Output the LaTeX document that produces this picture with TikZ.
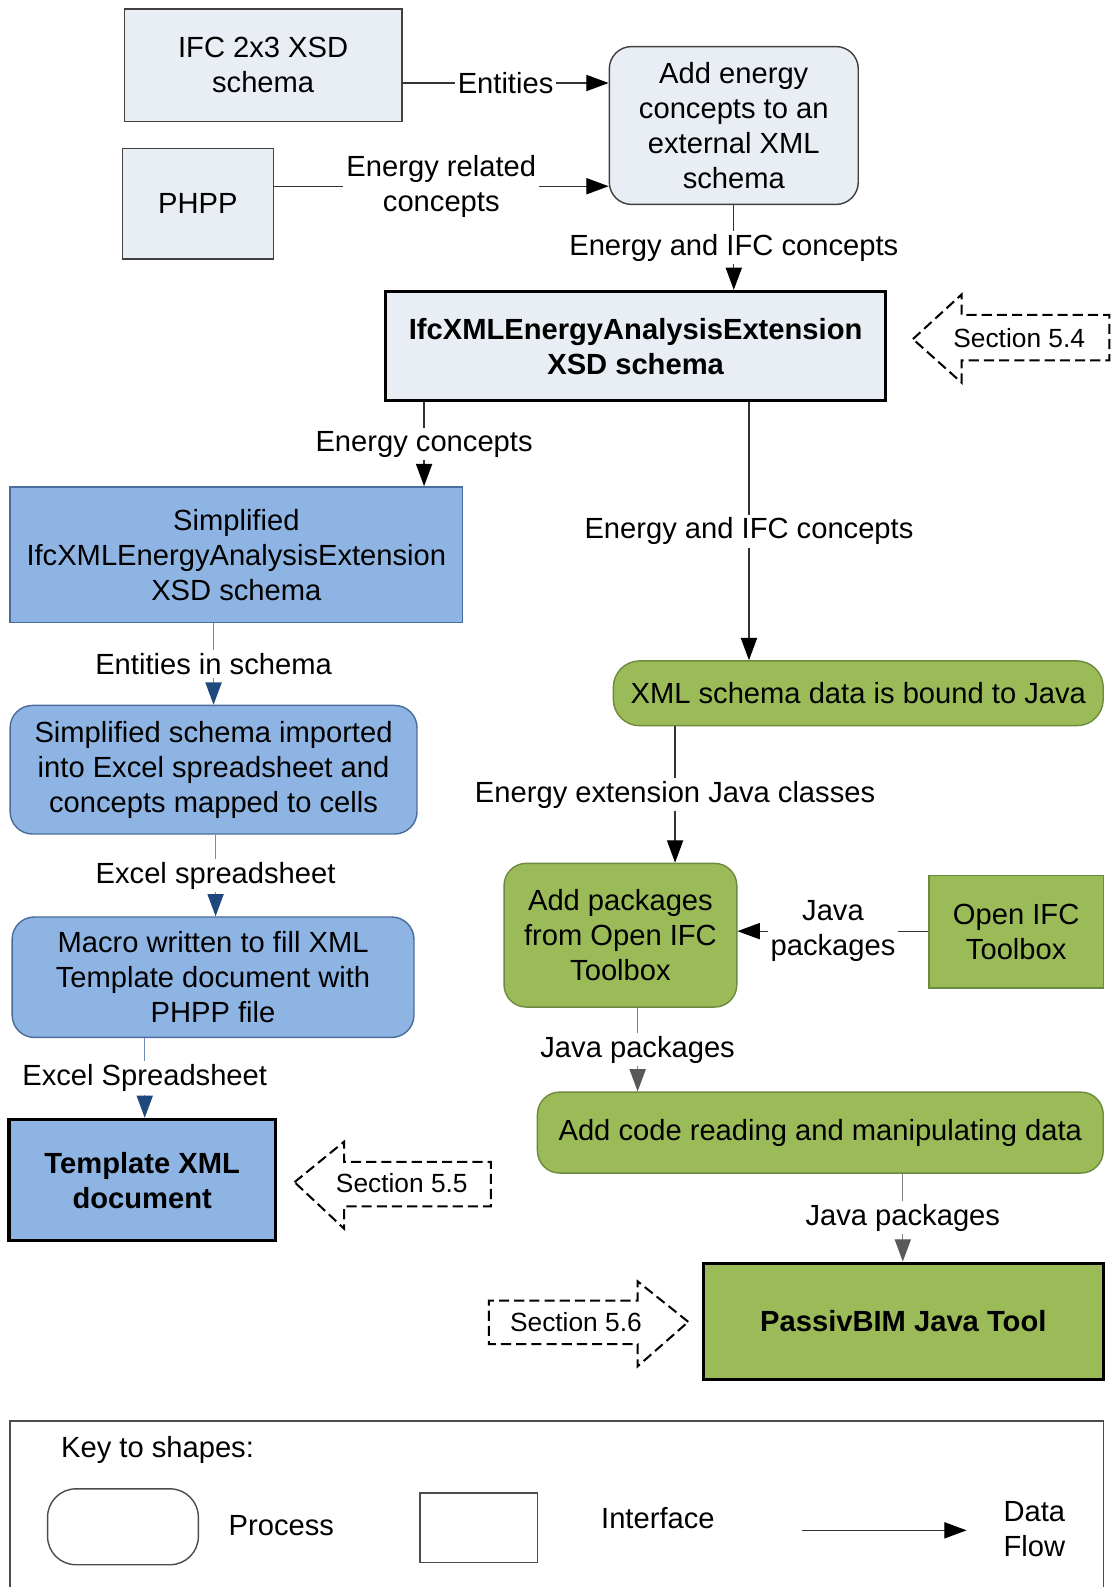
\documentclass[tikz,border=0pt]{standalone}
\usepackage{fontspec}
\setmainfont{Liberation Sans}
\usetikzlibrary{arrows.meta}
\definecolor{lightbox}{HTML}{E9EDF4}
\definecolor{bluebox}{HTML}{8EB4E3}
\definecolor{blueedge}{HTML}{4A6D9C}
\definecolor{blueline}{HTML}{6F8DB5}
\definecolor{bluehead}{HTML}{1F497D}
\definecolor{greenbox}{HTML}{9BBB59}
\definecolor{greenedge}{HTML}{6E8A3E}
\definecolor{grayline}{HTML}{808080}
\definecolor{grayhead}{HTML}{595959}
\begin{document}
\begin{tikzpicture}[x=0.5pt,y=-0.5pt,
  every node/.style={font=\fontsize{14.4}{17.3}\selectfont, align=center, inner sep=0pt},
  lightrect/.style={draw=black!75, fill=lightbox, line width=0.7pt},
  lightround/.style={lightrect, rounded corners=11pt},
  bluerect/.style={draw=blueedge, fill=bluebox, line width=0.7pt},
  blueround/.style={bluerect, rounded corners=11pt},
  greenrect/.style={draw=greenedge, fill=greenbox, line width=0.7pt},
  greenround/.style={greenrect, rounded corners=11pt},
  keynode/.style={draw=black, line width=1.6pt, font=\fontsize{14.4}{17.3}\selectfont\bfseries},
  lbl/.style={fill=white, inner sep=1.5pt},
  flow/.style={draw=black!80, line width=0.6pt, -{Triangle[length=11pt,width=8pt,color=black]}},
  bflow/.style={draw=blueline, line width=0.6pt, -{Triangle[length=11pt,width=8pt,color=bluehead]}},
  gflow/.style={draw=grayline, line width=0.6pt, -{Triangle[length=11pt,width=8pt,color=grayhead]}},
  secarrow/.style={draw=black, line width=1pt, dash pattern=on 5pt off 2.5pt},
  seclbl/.style={font=\fontsize{13}{15.6}\selectfont},
  keyline/.style={draw=black!70, line width=0.7pt}
]
\fill[white] (0,0) rectangle (1104,1568);
\useasboundingbox (0,0) rectangle (1104,1568);

% nodes
\node[lightrect, minimum width=137pt, minimum height=55.5pt] (ifc) at (260,64.5) {IFC 2x3 XSD\\schema};
\node[lightrect, minimum width=74.5pt, minimum height=54.5pt] (phpp) at (195.5,201.5) {PHPP};
\node[lightround, minimum width=123pt, minimum height=78pt] (adde) at (725,124) {Add energy\\concepts to an\\external XML\\schema};
\node[lightrect, keynode, fill=lightbox, minimum width=247pt, minimum height=54pt] (ifcx) at (628,342) {IfcXMLEnergyAnalysisExtension\\XSD schema};
\node[bluerect, minimum width=223.5pt, minimum height=67pt] (simp) at (233.5,548) {Simplified\\IfcXMLEnergyAnalysisExtension\\XSD schema};
\node[greenround, rounded corners=13pt, minimum width=242pt, minimum height=32pt] (xmlb) at (848,685) {XML schema data is bound to Java};
\node[blueround, minimum width=201pt, minimum height=63.5pt] (simpimp) at (211,760.5) {Simplified schema imported\\into Excel spreadsheet and\\concepts mapped to cells};
\node[blueround, minimum width=198.5pt, minimum height=59.5pt] (macro) at (210.5,965.5) {Macro written to fill XML\\Template document with\\PHPP file};
\node[bluerect, keynode, fill=bluebox, minimum width=131.5pt, minimum height=60pt] (tmpl) at (140.5,1166) {Template XML\\document};
\node[greenround, minimum width=115pt, minimum height=71pt] (addp) at (613,924) {Add packages\\from Open IFC\\Toolbox};
\node[greenrect, minimum width=86pt, minimum height=55.5pt] (oifc) at (1004,920.5) {Open IFC\\Toolbox};
\node[greenround, minimum width=279.5pt, minimum height=40pt] (addc) at (810.5,1119) {Add code reading and manipulating data};
\node[greenrect, keynode, fill=greenbox, minimum width=197.5pt, minimum height=57.5pt] (pbim) at (892.5,1305.5) {PassivBIM Java Tool};

% helper coordinates
\coordinate (yA) at (0,82);
\coordinate (yB) at (0,184);
\coordinate (yC) at (0,920);
\coordinate (x419) at (419,0);
\coordinate (x740) at (740,0);
\coordinate (x211) at (211,0);
\coordinate (x213) at (213,0);
\coordinate (x143) at (143,0);
\coordinate (x667) at (667,0);
\coordinate (x630) at (630,0);
\coordinate (x892) at (892,0);

% connectors
\draw[flow] (ifc.east |- yA) -- node[lbl] {Entities} (adde.west |- yA);
\draw[flow] (phpp.east |- yB) -- node[lbl] {Energy related\\concepts} (adde.west |- yB);
\draw[flow] (adde.south) -- node[lbl] {Energy and IFC concepts} (ifcx.north -| adde.south);
\draw[flow] (ifcx.south -| x419) -- node[lbl] {Energy concepts} (simp.north -| x419);
\draw[flow] (ifcx.south -| x740) -- node[lbl] {Energy and IFC concepts} (xmlb.north -| x740);
\draw[bflow] (simp.south -| x211) -- node[lbl] {Entities in schema} (simpimp.north -| x211);
\draw[bflow] (simpimp.south -| x213) -- node[lbl] {Excel spreadsheet} (macro.north -| x213);
\draw[bflow] (macro.south -| x143) -- node[lbl] {Excel Spreadsheet} (tmpl.north -| x143);
\draw[flow] (xmlb.south -| x667) -- node[lbl] {Energy extension Java classes} (addp.north -| x667);
\draw[flow] (oifc.west |- yC) -- node[lbl] {Java\\packages} (addp.east |- yC);
\draw[gflow] (addp.south -| x630) -- node[lbl] {Java packages} (addc.north -| x630);
\draw[gflow] (addc.south -| x892) -- node[lbl] {Java packages} (pbim.north -| x892);

% section arrows
\draw[secarrow] (902,335) -- (950,291) -- (950,311) -- (1096,311) -- (1096,356) -- (950,356) -- (950,378) -- cycle;
\node[seclbl] (s54) at (1007,334) {Section 5.4};
\draw[secarrow] (291,1168) -- (340,1128) -- (340,1148) -- (485,1148) -- (485,1192) -- (340,1192) -- (340,1214) -- cycle;
\node[seclbl] (s55) at (397,1169) {Section 5.5};
\draw[secarrow] (680,1306) -- (630,1266) -- (630,1285) -- (483,1285) -- (483,1328) -- (630,1328) -- (630,1350) -- cycle;
\node[seclbl] (s56) at (569,1306) {Section 5.6};

% key
\draw[keyline] (10,1568) -- (10,1404) -- (1090,1404) -- (1090,1568);
\node[anchor=west] (keyt) at (60,1433) {Key to shapes:};
\node[keyline, draw, rounded corners=14pt, minimum width=74.5pt, minimum height=37.5pt] (kp) at (121.5,1508.5) {};
\node (kpt) at (278,1507) {Process};
\node[keyline, draw, minimum width=58pt, minimum height=34.5pt] (ki) at (473,1509.5) {};
\node (kit) at (650,1500) {Interface};
\coordinate (ka) at (792,1512);
\coordinate (kb) at (955,1512);
\draw[flow] (ka) -- (kb);
\node (kdt) at (1022,1511) {Data\\Flow};
\end{tikzpicture}
\end{document}
